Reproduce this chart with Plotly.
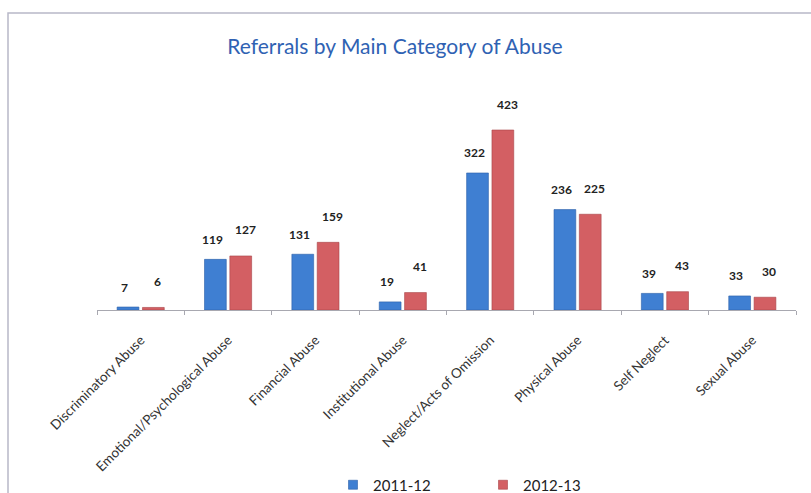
import plotly.graph_objects as go

categories = ["Discriminatory Abuse", "Emotional/Psychological Abuse", "Financial Abuse",
              "Institutional Abuse", "Neglect/Acts of Omission", "Physical Abuse",
              "Self Neglect", "Sexual Abuse"]
series_names = ["2011-12", "2012-13"]
values_2011 = [7, 119, 131, 19, 322, 236, 39, 33]
values_2012 = [6, 127, 159, 41, 423, 225, 43, 30]

colors = ["#3f7fd2", "#d35f63"]
lines = ["#2c5fa8", "#a84448"]

L, R, T, B = 97, 15, 110, 183
W, H = 811, 493
pw, ph = W - L - R, H - T - B

fig = go.Figure()
for name, vals, c, lc in zip(series_names, [values_2011, values_2012], colors, lines):
    fig.add_trace(go.Bar(name=name, x=categories, y=vals, showlegend=False,
                         marker=dict(color=c, line=dict(color=lc, width=0.6))))
for name, c, lc in zip(series_names, colors, lines):
    fig.add_trace(go.Scatter(name=name, x=[None], y=[None], mode="markers",
                             marker=dict(symbol="square", size=9, color=c,
                                         line=dict(color=lc, width=0.6))))

ann = []
for k, vals in enumerate([values_2011, values_2012]):
    for cat, v in zip(categories, vals):
        ann.append(dict(x=cat, y=v, xref="x", yref="y", text="<b>" + str(v) + "</b>",
                        showarrow=False,
                        xshift=(-16 if k == 0 else 17), yshift=(20 if k == 0 else 26),
                        font=dict(family="Lato", size=12, color="#222222"),
                        yanchor="middle"))

def px_x(p):
    return (p - L) / pw

def px_y(p):
    return (H - B - p) / ph

fig.update_layout(
    width=W, height=H,
    margin=dict(l=L, r=R, t=T, b=B, autoexpand=False),
    paper_bgcolor="white", plot_bgcolor="white",
    barmode="group", bargap=0.42, bargroupgap=0.14,
    title=dict(text="Referrals by Main Category of Abuse", x=0.487, xanchor="center",
               y=1 - 47 / H, yanchor="middle",
               font=dict(family="Lato", size=21, color="#2f62b3")),
    xaxis=dict(showline=True, linecolor="#a8a8b0", linewidth=1, ticks="outside",
               tickson="boundaries", ticklen=4, tickcolor="#a8a8b0", tickangle=-45,
               tickfont=dict(family="Lato", size=13.5, color="#333333"),
               ticklabelstandoff=16, automargin=False,
               showgrid=False, zeroline=False),
    yaxis=dict(range=[0, 470], visible=False, showgrid=False, zeroline=False,
               automargin=False),
    legend=dict(orientation="h", x=px_x(333), xanchor="left", y=px_y(485), yanchor="middle",
                font=dict(family="Lato", size=15, color="#222222"),
                entrywidth=105, itemwidth=30, traceorder="normal"),
    annotations=ann,
    shapes=[dict(type="rect", xref="paper", yref="paper",
                 x0=px_x(8), x1=px_x(813), y0=px_y(500), y1=px_y(13),
                 line=dict(color="#b8b8c8", width=1.5), fillcolor="rgba(0,0,0,0)",
                 layer="below")],
)

fig.write_html("out.html")
